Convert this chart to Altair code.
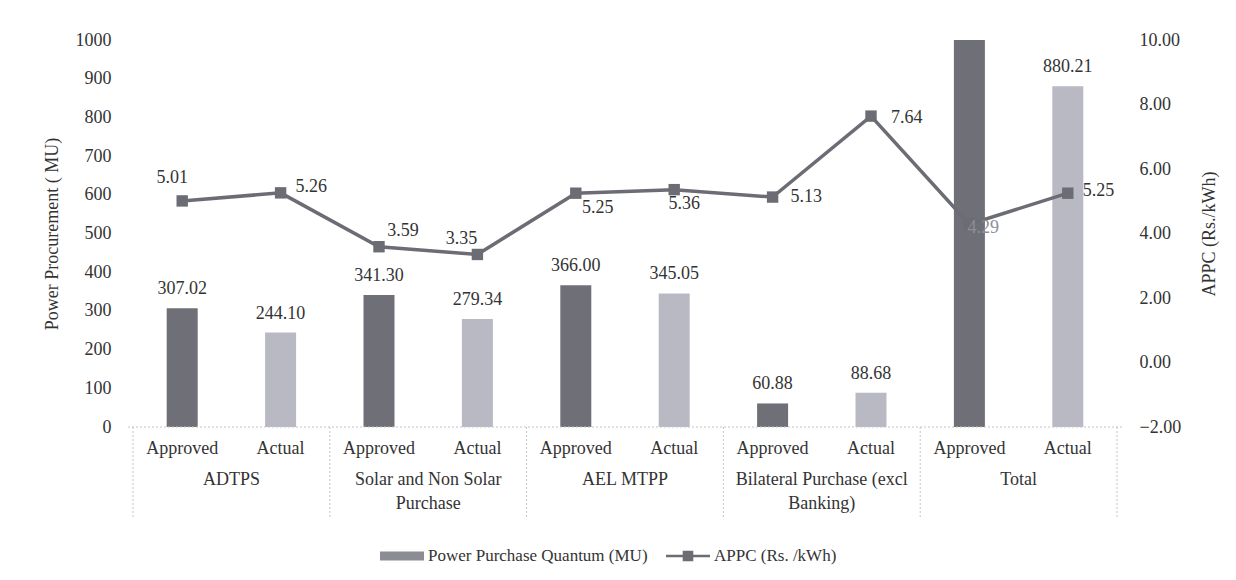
import altair as alt
import pandas as pd

# ---------------- data ----------------
groups = ["ADTPS", "Solar and Non Solar\nPurchase", "AEL MTPP",
          "Bilateral Purchase (excl\nBanking)", "Total"]
types = ["Approved", "Actual"]
quantum = [307.02, 244.10, 341.30, 279.34, 366.00, 345.05, 60.88, 88.68, 1075.20, 880.21]
appc = [5.01, 5.26, 3.59, 3.35, 5.25, 5.36, 5.13, 7.64, 4.29, 5.25]
legend_names = ["Power Purchase Quantum (MU)", "APPC (Rs. /kWh)"]
left_ticks = [0, 100, 200, 300, 400, 500, 600, 700, 800, 900, 1000]
right_ticks = [-2, 0, 2, 4, 6, 8, 10]

rows = []
for gi, g in enumerate(groups):
    for ti, t in enumerate(types):
        i = gi * 2 + ti
        rows.append(dict(idx=i, pos=i + 0.5, group=g, type=t,
                         quantum=quantum[i], appc=appc[i],
                         qlabel=f"{quantum[i]:.2f}", alabel=f"{appc[i]:.2f}"))
df = pd.DataFrame(rows)
gdf = pd.DataFrame({"group": groups, "center": [2 * i + 1 for i in range(len(groups))]})
bdf = pd.DataFrame({"b": [2 * i for i in range(len(groups) + 1)]})
ldf = pd.DataFrame({"series": legend_names})

# ---------------- style ----------------
W, H = 994, 387
FONT = "Liberation Serif"
FS = 18
TXT = "#333333"
DARK = "#6f6f78"
LIGHT = "#b9b9c3"
LINEC = "#6c6c74"
GRIDC = "#c4c4c4"

xscale = alt.Scale(domain=[0, 2 * len(groups)], nice=False, zero=False)
xenc = alt.X("pos:Q", scale=xscale, axis=None)

left_axis = alt.Axis(values=left_ticks, format="d", title="Power Procurement ( MU)",
                     domain=False, ticks=False, grid=False, labelPadding=17,
                     titlePadding=14, labelFont=FONT, titleFont=FONT,
                     labelFontSize=FS, titleFontSize=FS, titleFontWeight="normal",
                     labelColor=TXT, titleColor=TXT)
right_axis = alt.Axis(orient="right", values=right_ticks, format=".2f",
                      title="APPC (Rs./kWh)", domain=False, ticks=False, grid=False,
                      labelPadding=17, titlePadding=20, titleAngle=270,
                      titleBaseline="top",
                      labelFont=FONT, titleFont=FONT, labelFontSize=FS,
                      titleFontSize=FS, titleFontWeight="normal",
                      labelColor=TXT, titleColor=TXT)
yleft = alt.Y("quantum:Q", scale=alt.Scale(domain=[0, 1000], nice=False), axis=left_axis)
yright = alt.Y("appc:Q", scale=alt.Scale(domain=[-2, 10], nice=False, zero=False), axis=right_axis)

base = alt.Chart(df)

bars = base.mark_bar(width=31, clip=True).encode(
    x=xenc, y=yleft,
    fill=alt.Fill("type:N", scale=alt.Scale(domain=types, range=[DARK, LIGHT]), legend=None),
)
bar_labels = base.mark_text(font=FONT, fontSize=FS, color=TXT, baseline="alphabetic", dy=-14).encode(
    x=xenc, y=yleft, text="qlabel:N"
).transform_filter("datum.quantum <= 1000")

# x axis box: top line + separators
hline = alt.Chart(bdf).mark_rule(color=GRIDC, strokeDash=[2, 2], strokeWidth=1).encode(
    x=alt.value(0), x2=alt.value(W), y=alt.value(H)
).transform_filter("datum.b == 0")
seps = alt.Chart(bdf).mark_rule(color=GRIDC, strokeDash=[2, 2], strokeWidth=1).encode(
    x=alt.X("b:Q", scale=xscale, axis=None),
    y=alt.value(H), y2=alt.value(H + 92)
)
sub_labels = base.mark_text(font=FONT, fontSize=FS, color=TXT, baseline="middle").encode(
    x=xenc, y=alt.value(H + 22), text="type:N"
)
group_labels = alt.Chart(gdf).mark_text(font=FONT, fontSize=FS, color=TXT, baseline="top",
                                        lineBreak="\n", lineHeight=24).encode(
    x=alt.X("center:Q", scale=xscale, axis=None),
    y=alt.value(H + 44), text="group:N"
)

left_layer = alt.layer(bars, bar_labels, hline, seps, sub_labels, group_labels)

line = base.mark_line(color=LINEC, strokeWidth=3.5).encode(x=xenc, y=yright)
pts = base.mark_point(shape="square", filled=True, size=130, color=LINEC, opacity=1).encode(
    x=xenc, y=yright)

# label placement per point: (dx, dy, align, color)
placements = {
    0: (-10, -23, "center", TXT),
    1: (15, -6, "left", TXT),
    2: (24, -16, "center", TXT),
    3: (-16, -15, "center", TXT),
    4: (22, 15, "center", TXT),
    5: (10, 14, "center", TXT),
    6: (18, 0, "left", TXT),
    7: (20, 2, "left", TXT),
    8: (-2, 4, "left", "#8e8e96"),
    9: (15, -2, "left", TXT),
}
line_labels = []
for i, (dx, dy, al, col) in placements.items():
    line_labels.append(
        base.mark_text(font=FONT, fontSize=FS, color=col, baseline="middle", align=al, dx=dx, dy=dy)
        .encode(x=xenc, y=yright, text="alabel:N")
        .transform_filter(f"datum.idx == {i}")
    )

bar_path = "M-1,-0.2H1V0.2H-1Z"
line_path = "M-1,-0.06H1V0.06H-1Z M-0.24,-0.24H0.24V0.24H-0.24Z"
leg = alt.Legend(orient="none", legendX=252, legendY=494, direction="horizontal", title=None,
                 labelFont=FONT, labelFontSize=17, labelColor=TXT, symbolSize=1936,
                 symbolStrokeWidth=0, labelOffset=4, columnPadding=18, symbolOpacity=1,
                 labelLimit=500)
legend_layer = alt.Chart(ldf).mark_point(filled=True, opacity=0).encode(
    color=alt.Color("series:N", scale=alt.Scale(domain=legend_names, range=["#8c8c94", LINEC]), legend=leg),
    shape=alt.Shape("series:N", scale=alt.Scale(domain=legend_names, range=[bar_path, line_path]), legend=leg),
)

right_layer = alt.layer(line, pts, *line_labels, legend_layer)

chart = alt.layer(left_layer, right_layer).resolve_scale(y="independent").properties(
    width=W, height=H,
    padding={"left": 120, "top": 32, "right": 100, "bottom": 140},
    autosize=alt.AutoSizeParams(type="none"),
).configure(background="white").configure_view(strokeWidth=0)

chart.save("out.html", embed_options={"renderer": "svg", "actions": False})
